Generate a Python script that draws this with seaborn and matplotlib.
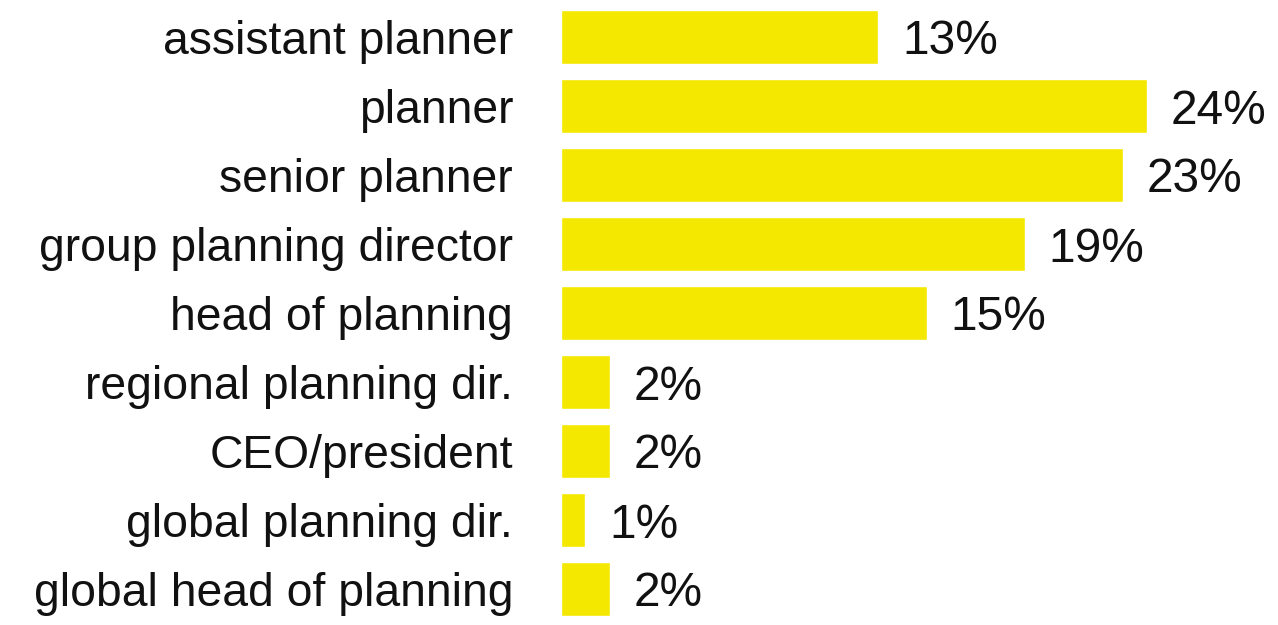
import matplotlib
matplotlib.use("Agg")
import matplotlib.pyplot as plt
import seaborn as sns
import pandas as pd

roles = [
    "assistant planner",
    "planner",
    "senior planner",
    "group planning director",
    "head of planning",
    "regional planning dir.",
    "CEO/president",
    "global planning dir.",
    "global head of planning",
]
shares = [13, 24, 23, 19, 15, 2, 2, 1, 2]

df = pd.DataFrame({"role": roles, "share": shares})

sns.set_style("white")
plt.rcParams["font.family"] = ["Liberation Sans", "DejaVu Sans"]

fig = plt.figure(figsize=(12.78, 6.25), dpi=100)
ax = fig.add_axes([561 / 1278, 0.0024, (1147 - 561) / 1278, 0.9936])

sns.barplot(data=df, x="share", y="role", orient="h", color="#F4E800",
            width=0.78, saturation=1, ax=ax)

ax.set_xlim(0, 24)
ax.set_ylim(8.5, -0.5)
ax.set_xlabel("")
ax.set_ylabel("")
ax.set_xticks([])
ax.tick_params(axis="y", length=0, pad=34.5, labelsize=33.3, labelcolor="#111111")
for s in ax.spines.values():
    s.set_visible(False)

# value labels to the right of each bar
for i, v in enumerate(shares):
    ax.annotate(f"{v}%", xy=(v, i), xytext=(17, 0), textcoords="offset points",
                ha="left", va="center_baseline", fontsize=34.5,
                color="#111111", annotation_clip=False)

fig.savefig("out.png", dpi=100)
